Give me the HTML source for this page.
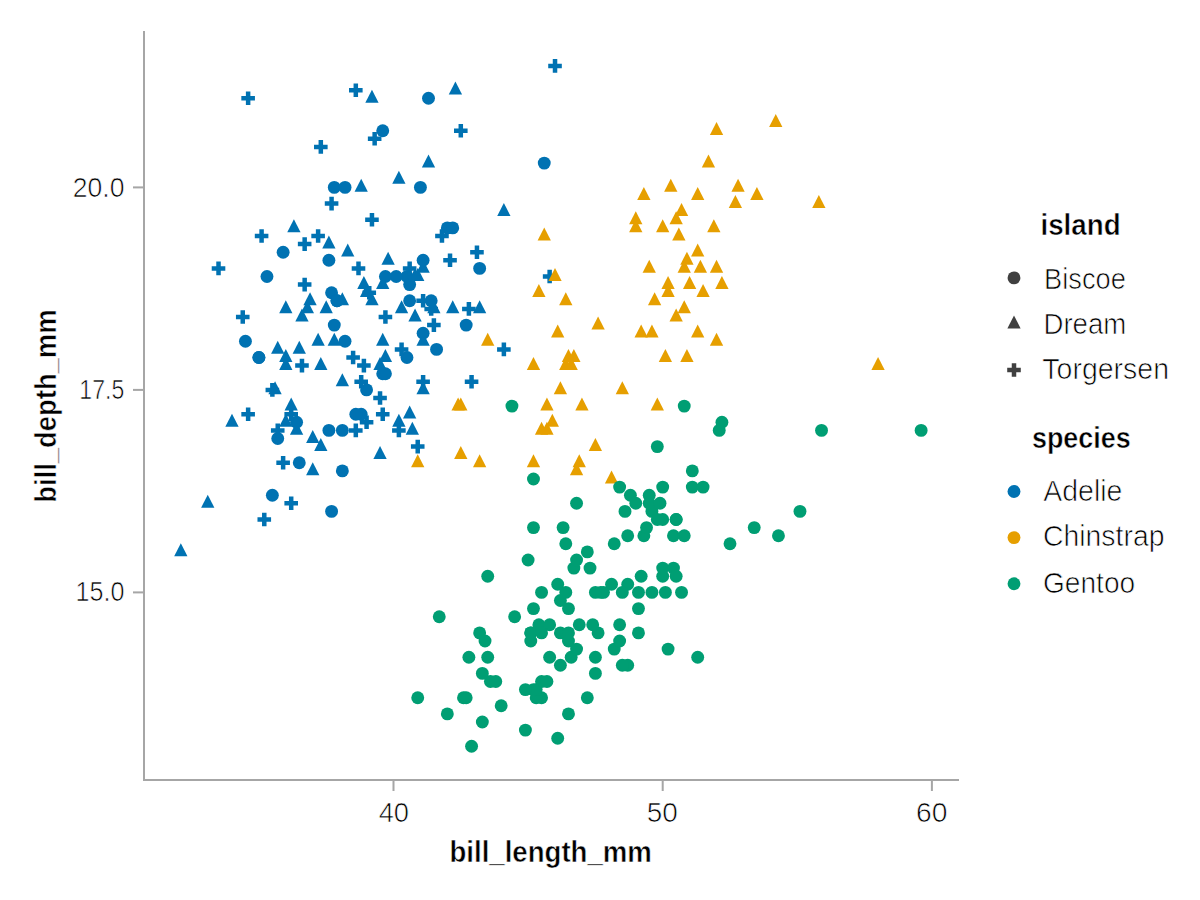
<!DOCTYPE html>
<html><head><meta charset="utf-8"><style>
html,body{margin:0;padding:0;background:#fff;}
svg{display:block;}
text{font-family:"Liberation Sans",sans-serif;fill:#000;}
.th{stroke:#fff;stroke-width:0.7px;}
.bd{stroke:#fff;stroke-width:0.5px;}
</style></head><body>
<svg width="1200" height="900" viewBox="0 0 1200 900">
<rect width="1200" height="900" fill="#fff"/>
<rect x="143" y="31" width="2" height="750" fill="#a6a6a6"/>
<rect x="143" y="779" width="816" height="2" fill="#a6a6a6"/>
<rect x="392.50" y="781" width="2" height="10" fill="#a6a6a6"/><rect x="661.70" y="781" width="2" height="10" fill="#a6a6a6"/><rect x="930.90" y="781" width="2" height="10" fill="#a6a6a6"/><rect x="133" y="186.40" width="10" height="2" fill="#a6a6a6"/><rect x="133" y="388.90" width="10" height="2" fill="#a6a6a6"/><rect x="133" y="591.40" width="10" height="2" fill="#a6a6a6"/>
<text x="124.45" y="197.05" font-size="28.40" class="th" text-anchor="end" textLength="51.72" lengthAdjust="spacingAndGlyphs">20.0</text>
<text x="124.25" y="399.05" font-size="28.40" class="th" text-anchor="end" textLength="44.90" lengthAdjust="spacingAndGlyphs">17.5</text>
<text x="124.45" y="600.95" font-size="28.40" class="th" text-anchor="end" textLength="48.91" lengthAdjust="spacingAndGlyphs">15.0</text>
<text x="393.85" y="822.15" font-size="28.40" class="th" text-anchor="middle" textLength="30.39" lengthAdjust="spacingAndGlyphs">40</text>
<text x="662.35" y="822.35" font-size="28.40" class="th" text-anchor="middle" textLength="31.08" lengthAdjust="spacingAndGlyphs">50</text>
<text x="931.75" y="822.15" font-size="28.40" class="th" text-anchor="middle" textLength="31.41" lengthAdjust="spacingAndGlyphs">60</text>
<text x="550.70" y="861.55" font-size="28.70" font-weight="bold" class="bd" text-anchor="middle" textLength="202.46" lengthAdjust="spacingAndGlyphs">bill_length_mm</text>
<text transform="translate(55.95,406.10) rotate(-90)" font-size="28.70" font-weight="bold" class="bd" text-anchor="middle" textLength="193.30" lengthAdjust="spacingAndGlyphs">bill_depth_mm</text>
<text x="1040.45" y="235.45" font-size="28.90" font-weight="bold" class="bd" textLength="80.18" lengthAdjust="spacingAndGlyphs">island</text>
<text x="1044.05" y="288.75" font-size="28.60" class="th" textLength="81.84" lengthAdjust="spacingAndGlyphs">Biscoe</text>
<text x="1043.45" y="334.25" font-size="28.60" class="th" textLength="82.87" lengthAdjust="spacingAndGlyphs">Dream</text>
<text x="1042.35" y="379.15" font-size="28.60" class="th" textLength="126.63" lengthAdjust="spacingAndGlyphs">Torgersen</text>
<text x="1031.95" y="447.55" font-size="28.90" font-weight="bold" class="bd" textLength="98.64" lengthAdjust="spacingAndGlyphs">species</text>
<text x="1043.35" y="501.25" font-size="28.60" class="th" textLength="79.06" lengthAdjust="spacingAndGlyphs">Adelie</text>
<text x="1043.00" y="546.45" font-size="28.60" class="th" textLength="121.49" lengthAdjust="spacingAndGlyphs">Chinstrap</text>
<text x="1043.00" y="593.45" font-size="28.60" class="th" textLength="92.14" lengthAdjust="spacingAndGlyphs">Gentoo</text>
<circle cx="334.28" cy="325.10" r="6.45" fill="#0072B2"/>
<circle cx="331.58" cy="292.70" r="6.45" fill="#0072B2"/>
<circle cx="283.13" cy="252.20" r="6.45" fill="#0072B2"/>
<circle cx="345.04" cy="341.30" r="6.45" fill="#0072B2"/>
<circle cx="361.20" cy="414.20" r="6.45" fill="#0072B2"/>
<circle cx="266.98" cy="276.50" r="6.45" fill="#0072B2"/>
<circle cx="409.65" cy="300.80" r="6.45" fill="#0072B2"/>
<circle cx="406.96" cy="357.50" r="6.45" fill="#0072B2"/>
<circle cx="336.97" cy="300.80" r="6.45" fill="#0072B2"/>
<circle cx="406.96" cy="276.50" r="6.45" fill="#0072B2"/>
<circle cx="382.73" cy="373.70" r="6.45" fill="#0072B2"/>
<circle cx="396.19" cy="276.50" r="6.45" fill="#0072B2"/>
<circle cx="258.90" cy="357.50" r="6.45" fill="#0072B2"/>
<circle cx="447.34" cy="227.90" r="6.45" fill="#0072B2"/>
<circle cx="245.44" cy="341.30" r="6.45" fill="#0072B2"/>
<circle cx="431.19" cy="300.80" r="6.45" fill="#0072B2"/>
<circle cx="366.58" cy="389.90" r="6.45" fill="#0072B2"/>
<circle cx="409.65" cy="284.60" r="6.45" fill="#0072B2"/>
<circle cx="299.28" cy="462.80" r="6.45" fill="#0072B2"/>
<circle cx="328.89" cy="260.30" r="6.45" fill="#0072B2"/>
<circle cx="277.74" cy="438.50" r="6.45" fill="#0072B2"/>
<circle cx="428.50" cy="98.30" r="6.45" fill="#0072B2"/>
<circle cx="328.89" cy="430.40" r="6.45" fill="#0072B2"/>
<circle cx="423.11" cy="333.20" r="6.45" fill="#0072B2"/>
<circle cx="296.59" cy="422.30" r="6.45" fill="#0072B2"/>
<circle cx="436.57" cy="349.40" r="6.45" fill="#0072B2"/>
<circle cx="272.36" cy="495.20" r="6.45" fill="#0072B2"/>
<circle cx="423.11" cy="260.30" r="6.45" fill="#0072B2"/>
<circle cx="258.90" cy="357.50" r="6.45" fill="#0072B2"/>
<circle cx="420.42" cy="187.40" r="6.45" fill="#0072B2"/>
<circle cx="331.58" cy="511.40" r="6.45" fill="#0072B2"/>
<circle cx="334.28" cy="187.40" r="6.45" fill="#0072B2"/>
<circle cx="336.97" cy="300.80" r="6.45" fill="#0072B2"/>
<circle cx="385.42" cy="276.50" r="6.45" fill="#0072B2"/>
<circle cx="355.81" cy="414.20" r="6.45" fill="#0072B2"/>
<circle cx="345.04" cy="187.40" r="6.45" fill="#0072B2"/>
<circle cx="342.35" cy="430.40" r="6.45" fill="#0072B2"/>
<circle cx="479.64" cy="268.40" r="6.45" fill="#0072B2"/>
<circle cx="342.35" cy="470.90" r="6.45" fill="#0072B2"/>
<circle cx="544.25" cy="163.10" r="6.45" fill="#0072B2"/>
<circle cx="385.42" cy="373.70" r="6.45" fill="#0072B2"/>
<circle cx="452.72" cy="227.90" r="6.45" fill="#0072B2"/>
<circle cx="382.73" cy="130.70" r="6.45" fill="#0072B2"/>
<circle cx="466.18" cy="325.10" r="6.45" fill="#0072B2"/>
<path d="M380.04 446.10L386.69 459.10L373.39 459.10Z" fill="#0072B2"/>
<path d="M318.12 332.70L324.77 345.70L311.47 345.70Z" fill="#0072B2"/>
<path d="M380.04 357.00L386.69 370.00L373.39 370.00Z" fill="#0072B2"/>
<path d="M417.73 267.90L424.38 280.90L411.08 280.90Z" fill="#0072B2"/>
<path d="M296.59 421.80L303.24 434.80L289.94 434.80Z" fill="#0072B2"/>
<path d="M371.96 89.70L378.61 102.70L365.31 102.70Z" fill="#0072B2"/>
<path d="M361.20 178.80L367.85 191.80L354.55 191.80Z" fill="#0072B2"/>
<path d="M452.72 300.30L459.37 313.30L446.07 313.30Z" fill="#0072B2"/>
<path d="M328.89 235.50L335.54 248.50L322.24 248.50Z" fill="#0072B2"/>
<path d="M388.12 251.70L394.77 264.70L381.47 264.70Z" fill="#0072B2"/>
<path d="M299.28 340.80L305.93 353.80L292.63 353.80Z" fill="#0072B2"/>
<path d="M415.04 308.40L421.69 321.40L408.39 321.40Z" fill="#0072B2"/>
<path d="M285.82 300.30L292.47 313.30L279.17 313.30Z" fill="#0072B2"/>
<path d="M503.87 203.10L510.52 216.10L497.22 216.10Z" fill="#0072B2"/>
<path d="M312.74 429.90L319.39 442.90L306.09 442.90Z" fill="#0072B2"/>
<path d="M382.73 276.00L389.38 289.00L376.08 289.00Z" fill="#0072B2"/>
<path d="M423.11 259.80L429.76 272.80L416.46 272.80Z" fill="#0072B2"/>
<path d="M285.82 348.90L292.47 361.90L279.17 361.90Z" fill="#0072B2"/>
<path d="M455.42 81.60L462.07 94.60L448.77 94.60Z" fill="#0072B2"/>
<path d="M320.82 357.00L327.47 370.00L314.17 370.00Z" fill="#0072B2"/>
<path d="M428.50 154.50L435.15 167.50L421.85 167.50Z" fill="#0072B2"/>
<path d="M293.90 219.30L300.55 232.30L287.25 232.30Z" fill="#0072B2"/>
<path d="M310.05 292.20L316.70 305.20L303.40 305.20Z" fill="#0072B2"/>
<path d="M347.74 243.60L354.39 256.60L341.09 256.60Z" fill="#0072B2"/>
<path d="M363.89 276.00L370.54 289.00L357.24 289.00Z" fill="#0072B2"/>
<path d="M277.74 340.80L284.39 353.80L271.09 353.80Z" fill="#0072B2"/>
<path d="M423.11 332.70L429.76 345.70L416.46 345.70Z" fill="#0072B2"/>
<path d="M231.98 413.70L238.63 426.70L225.33 426.70Z" fill="#0072B2"/>
<path d="M382.73 332.70L389.38 345.70L376.08 345.70Z" fill="#0072B2"/>
<path d="M291.20 397.50L297.85 410.50L284.55 410.50Z" fill="#0072B2"/>
<path d="M415.04 267.90L421.69 280.90L408.39 280.90Z" fill="#0072B2"/>
<path d="M342.35 292.20L349.00 305.20L335.70 305.20Z" fill="#0072B2"/>
<path d="M401.58 300.30L408.23 313.30L394.93 313.30Z" fill="#0072B2"/>
<path d="M207.75 494.70L214.40 507.70L201.10 507.70Z" fill="#0072B2"/>
<path d="M479.64 300.30L486.29 313.30L472.99 313.30Z" fill="#0072B2"/>
<path d="M307.36 300.30L314.01 313.30L300.71 313.30Z" fill="#0072B2"/>
<path d="M326.20 300.30L332.85 313.30L319.55 313.30Z" fill="#0072B2"/>
<path d="M342.35 373.20L349.00 386.20L335.70 386.20Z" fill="#0072B2"/>
<path d="M423.11 381.30L429.76 394.30L416.46 394.30Z" fill="#0072B2"/>
<path d="M275.05 381.30L281.70 394.30L268.40 394.30Z" fill="#0072B2"/>
<path d="M398.88 170.70L405.53 183.70L392.23 183.70Z" fill="#0072B2"/>
<path d="M312.74 462.30L319.39 475.30L306.09 475.30Z" fill="#0072B2"/>
<path d="M385.42 348.90L392.07 361.90L378.77 361.90Z" fill="#0072B2"/>
<path d="M398.88 413.70L405.53 426.70L392.23 426.70Z" fill="#0072B2"/>
<path d="M409.65 405.60L416.30 418.60L403.00 418.60Z" fill="#0072B2"/>
<path d="M180.83 543.30L187.48 556.30L174.18 556.30Z" fill="#0072B2"/>
<path d="M412.34 421.80L418.99 434.80L405.69 434.80Z" fill="#0072B2"/>
<path d="M320.82 438.00L327.47 451.00L314.17 451.00Z" fill="#0072B2"/>
<path d="M366.58 284.10L373.23 297.10L359.93 297.10Z" fill="#0072B2"/>
<path d="M371.96 292.20L378.61 305.20L365.31 305.20Z" fill="#0072B2"/>
<path d="M301.97 308.40L308.62 321.40L295.32 321.40Z" fill="#0072B2"/>
<path d="M285.82 357.00L292.47 370.00L279.17 370.00Z" fill="#0072B2"/>
<path d="M334.28 332.70L340.93 345.70L327.63 345.70Z" fill="#0072B2"/>
<path d="M285.82 413.70L292.47 426.70L279.17 426.70Z" fill="#0072B2"/>
<path d="M433.88 300.30L440.53 313.30L427.23 313.30Z" fill="#0072B2"/>
<path d="M367.02 285.90H371.52V290.45H376.07V294.95H371.52V299.50H367.02V294.95H362.47V290.45H367.02Z" fill="#0072B2"/>
<path d="M377.79 391.20H382.29V395.75H386.84V400.25H382.29V404.80H377.79V400.25H373.24V395.75H377.79Z" fill="#0072B2"/>
<path d="M399.33 342.60H403.83V347.15H408.38V351.65H403.83V356.20H399.33V351.65H394.78V347.15H399.33Z" fill="#0072B2"/>
<path d="M302.41 237.30H306.91V241.85H311.46V246.35H306.91V250.90H302.41V246.35H297.86V241.85H302.41Z" fill="#0072B2"/>
<path d="M372.41 132.00H376.91V136.55H381.46V141.05H376.91V145.60H372.41V141.05H367.86V136.55H372.41Z" fill="#0072B2"/>
<path d="M361.64 358.80H366.14V363.35H370.69V367.85H366.14V372.40H361.64V367.85H357.09V363.35H361.64Z" fill="#0072B2"/>
<path d="M369.71 213.00H374.21V217.55H378.76V222.05H374.21V226.60H369.71V222.05H365.16V217.55H369.71Z" fill="#0072B2"/>
<path d="M420.86 375.00H425.36V379.55H429.91V384.05H425.36V388.60H420.86V384.05H416.31V379.55H420.86Z" fill="#0072B2"/>
<path d="M353.56 83.40H358.06V87.95H362.61V92.45H358.06V97.00H353.56V92.45H349.01V87.95H353.56Z" fill="#0072B2"/>
<path d="M245.88 91.50H250.38V96.05H254.93V100.55H250.38V105.10H245.88V100.55H241.33V96.05H245.88Z" fill="#0072B2"/>
<path d="M299.72 358.80H304.22V363.35H308.77V367.85H304.22V372.40H299.72V367.85H295.17V363.35H299.72Z" fill="#0072B2"/>
<path d="M356.25 261.60H360.75V266.15H365.30V270.65H360.75V275.20H356.25V270.65H351.70V266.15H356.25Z" fill="#0072B2"/>
<path d="M458.55 123.90H463.05V128.45H467.60V132.95H463.05V137.50H458.55V132.95H454.00V128.45H458.55Z" fill="#0072B2"/>
<path d="M240.50 310.20H245.00V314.75H249.55V319.25H245.00V323.80H240.50V319.25H235.95V314.75H240.50Z" fill="#0072B2"/>
<path d="M552.77 59.10H557.27V63.65H561.82V68.15H557.27V72.70H552.77V68.15H548.22V63.65H552.77Z" fill="#0072B2"/>
<path d="M280.88 456.00H285.38V460.55H289.93V465.05H285.38V469.60H280.88V465.05H276.33V460.55H280.88Z" fill="#0072B2"/>
<path d="M439.71 229.20H444.21V233.75H448.76V238.25H444.21V242.80H439.71V238.25H435.16V233.75H439.71Z" fill="#0072B2"/>
<path d="M216.27 261.60H220.77V266.15H225.32V270.65H220.77V275.20H216.27V270.65H211.72V266.15H216.27Z" fill="#0072B2"/>
<path d="M383.17 310.20H387.67V314.75H392.22V319.25H387.67V323.80H383.17V319.25H378.62V314.75H383.17Z" fill="#0072B2"/>
<path d="M380.48 407.40H384.98V411.95H389.53V416.45H384.98V421.00H380.48V416.45H375.93V411.95H380.48Z" fill="#0072B2"/>
<path d="M547.39 269.70H551.89V274.25H556.44V278.75H551.89V283.30H547.39V278.75H542.84V274.25H547.39Z" fill="#0072B2"/>
<path d="M270.11 383.10H274.61V387.65H279.16V392.15H274.61V396.70H270.11V392.15H265.56V387.65H270.11Z" fill="#0072B2"/>
<path d="M466.63 302.10H471.13V306.65H475.68V311.15H471.13V315.70H466.63V311.15H462.08V306.65H466.63Z" fill="#0072B2"/>
<path d="M415.48 439.80H419.98V444.35H424.53V448.85H419.98V453.40H415.48V448.85H410.93V444.35H415.48Z" fill="#0072B2"/>
<path d="M315.87 229.20H320.37V233.75H324.92V238.25H320.37V242.80H315.87V238.25H311.32V233.75H315.87Z" fill="#0072B2"/>
<path d="M288.95 496.50H293.45V501.05H298.00V505.55H293.45V510.10H288.95V505.55H284.40V501.05H288.95Z" fill="#0072B2"/>
<path d="M447.78 253.50H452.28V258.05H456.83V262.55H452.28V267.10H447.78V262.55H443.23V258.05H447.78Z" fill="#0072B2"/>
<path d="M245.88 407.40H250.38V411.95H254.93V416.45H250.38V421.00H245.88V416.45H241.33V411.95H245.88Z" fill="#0072B2"/>
<path d="M469.32 375.00H473.82V379.55H478.37V384.05H473.82V388.60H469.32V384.05H464.77V379.55H469.32Z" fill="#0072B2"/>
<path d="M302.41 277.80H306.91V282.35H311.46V286.85H306.91V291.40H302.41V286.85H297.86V282.35H302.41Z" fill="#0072B2"/>
<path d="M259.34 229.20H263.84V233.75H268.39V238.25H263.84V242.80H259.34V238.25H254.79V233.75H259.34Z" fill="#0072B2"/>
<path d="M353.56 423.60H358.06V428.15H362.61V432.65H358.06V437.20H353.56V432.65H349.01V428.15H353.56Z" fill="#0072B2"/>
<path d="M318.57 140.10H323.07V144.65H327.62V149.15H323.07V153.70H318.57V149.15H314.02V144.65H318.57Z" fill="#0072B2"/>
<path d="M275.49 423.60H279.99V428.15H284.54V432.65H279.99V437.20H275.49V432.65H270.94V428.15H275.49Z" fill="#0072B2"/>
<path d="M420.86 294.00H425.36V298.55H429.91V303.05H425.36V307.60H420.86V303.05H416.31V298.55H420.86Z" fill="#0072B2"/>
<path d="M288.95 407.40H293.45V411.95H298.00V416.45H293.45V421.00H288.95V416.45H284.40V411.95H288.95Z" fill="#0072B2"/>
<path d="M329.33 196.80H333.83V201.35H338.38V205.85H333.83V210.40H329.33V205.85H324.78V201.35H329.33Z" fill="#0072B2"/>
<path d="M396.63 423.60H401.13V428.15H405.68V432.65H401.13V437.20H396.63V432.65H392.08V428.15H396.63Z" fill="#0072B2"/>
<path d="M428.94 302.10H433.44V306.65H437.99V311.15H433.44V315.70H428.94V311.15H424.39V306.65H428.94Z" fill="#0072B2"/>
<path d="M262.03 512.70H266.53V517.25H271.08V521.75H266.53V526.30H262.03V521.75H257.48V517.25H262.03Z" fill="#0072B2"/>
<path d="M407.40 261.60H411.90V266.15H416.45V270.65H411.90V275.20H407.40V270.65H402.85V266.15H407.40Z" fill="#0072B2"/>
<path d="M358.95 375.00H363.45V379.55H368.00V384.05H363.45V388.60H358.95V384.05H354.40V379.55H358.95Z" fill="#0072B2"/>
<path d="M431.63 318.30H436.13V322.85H440.68V327.35H436.13V331.90H431.63V327.35H427.08V322.85H431.63Z" fill="#0072B2"/>
<path d="M364.33 415.50H368.83V420.05H373.38V424.55H368.83V429.10H364.33V424.55H359.78V420.05H364.33Z" fill="#0072B2"/>
<path d="M501.62 342.60H506.12V347.15H510.67V351.65H506.12V356.20H501.62V351.65H497.07V347.15H501.62Z" fill="#0072B2"/>
<path d="M350.87 350.70H355.37V355.25H359.92V359.75H355.37V364.30H350.87V359.75H346.32V355.25H350.87Z" fill="#0072B2"/>
<path d="M474.70 245.40H479.20V249.95H483.75V254.45H479.20V259.00H474.70V254.45H470.15V249.95H474.70Z" fill="#0072B2"/>
<path d="M568.48 348.90L575.13 361.90L561.83 361.90Z" fill="#E69F00"/>
<path d="M662.70 219.30L669.35 232.30L656.05 232.30Z" fill="#E69F00"/>
<path d="M697.70 243.60L704.35 256.60L691.05 256.60Z" fill="#E69F00"/>
<path d="M538.87 284.10L545.52 297.10L532.22 297.10Z" fill="#E69F00"/>
<path d="M735.38 195.00L742.03 208.00L728.73 208.00Z" fill="#E69F00"/>
<path d="M533.48 357.00L540.13 370.00L526.83 370.00Z" fill="#E69F00"/>
<path d="M557.71 324.60L564.36 337.60L551.06 337.60Z" fill="#E69F00"/>
<path d="M697.70 324.60L704.35 337.60L691.05 337.60Z" fill="#E69F00"/>
<path d="M555.02 267.90L561.67 280.90L548.37 280.90Z" fill="#E69F00"/>
<path d="M697.70 186.90L704.35 199.90L691.05 199.90Z" fill="#E69F00"/>
<path d="M571.17 357.00L577.82 370.00L564.52 370.00Z" fill="#E69F00"/>
<path d="M708.46 154.50L715.11 167.50L701.81 167.50Z" fill="#E69F00"/>
<path d="M581.94 397.50L588.59 410.50L575.29 410.50Z" fill="#E69F00"/>
<path d="M716.54 332.70L723.19 345.70L709.89 345.70Z" fill="#E69F00"/>
<path d="M552.33 413.70L558.98 426.70L545.68 426.70Z" fill="#E69F00"/>
<path d="M676.16 211.20L682.81 224.20L669.51 224.20Z" fill="#E69F00"/>
<path d="M670.78 178.80L677.43 191.80L664.13 191.80Z" fill="#E69F00"/>
<path d="M878.06 357.00L884.71 370.00L871.41 370.00Z" fill="#E69F00"/>
<path d="M565.79 292.20L572.44 305.20L559.14 305.20Z" fill="#E69F00"/>
<path d="M641.16 324.60L647.81 337.60L634.51 337.60Z" fill="#E69F00"/>
<path d="M458.11 397.50L464.76 410.50L451.46 410.50Z" fill="#E69F00"/>
<path d="M622.32 381.30L628.97 394.30L615.67 394.30Z" fill="#E69F00"/>
<path d="M479.64 454.20L486.29 467.20L472.99 467.20Z" fill="#E69F00"/>
<path d="M678.85 227.40L685.50 240.40L672.20 240.40Z" fill="#E69F00"/>
<path d="M573.86 348.90L580.51 361.90L567.21 361.90Z" fill="#E69F00"/>
<path d="M716.54 259.80L723.19 272.80L709.89 272.80Z" fill="#E69F00"/>
<path d="M676.16 308.40L682.81 321.40L669.51 321.40Z" fill="#E69F00"/>
<path d="M649.24 259.80L655.89 272.80L642.59 272.80Z" fill="#E69F00"/>
<path d="M565.79 357.00L572.44 370.00L559.14 370.00Z" fill="#E69F00"/>
<path d="M738.08 178.80L744.73 191.80L731.43 191.80Z" fill="#E69F00"/>
<path d="M417.73 454.20L424.38 467.20L411.08 467.20Z" fill="#E69F00"/>
<path d="M775.76 114.00L782.41 127.00L769.11 127.00Z" fill="#E69F00"/>
<path d="M460.80 446.10L467.45 459.10L454.15 459.10Z" fill="#E69F00"/>
<path d="M689.62 276.00L696.27 289.00L682.97 289.00Z" fill="#E69F00"/>
<path d="M654.62 292.20L661.27 305.20L647.97 305.20Z" fill="#E69F00"/>
<path d="M595.40 438.00L602.05 451.00L588.75 451.00Z" fill="#E69F00"/>
<path d="M598.09 316.50L604.74 329.50L591.44 329.50Z" fill="#E69F00"/>
<path d="M716.54 122.10L723.19 135.10L709.89 135.10Z" fill="#E69F00"/>
<path d="M579.25 454.20L585.90 467.20L572.60 467.20Z" fill="#E69F00"/>
<path d="M756.92 186.90L763.57 199.90L750.27 199.90Z" fill="#E69F00"/>
<path d="M635.78 219.30L642.43 232.30L629.13 232.30Z" fill="#E69F00"/>
<path d="M560.40 381.30L567.05 394.30L553.75 394.30Z" fill="#E69F00"/>
<path d="M686.93 251.70L693.58 264.70L680.28 264.70Z" fill="#E69F00"/>
<path d="M541.56 421.80L548.21 434.80L534.91 434.80Z" fill="#E69F00"/>
<path d="M686.93 348.90L693.58 361.90L680.28 361.90Z" fill="#E69F00"/>
<path d="M684.24 300.30L690.89 313.30L677.59 313.30Z" fill="#E69F00"/>
<path d="M665.39 348.90L672.04 361.90L658.74 361.90Z" fill="#E69F00"/>
<path d="M635.78 211.20L642.43 224.20L629.13 224.20Z" fill="#E69F00"/>
<path d="M703.08 284.10L709.73 297.10L696.43 297.10Z" fill="#E69F00"/>
<path d="M657.32 397.50L663.97 410.50L650.67 410.50Z" fill="#E69F00"/>
<path d="M611.55 470.40L618.20 483.40L604.90 483.40Z" fill="#E69F00"/>
<path d="M700.39 259.80L707.04 272.80L693.74 272.80Z" fill="#E69F00"/>
<path d="M546.94 397.50L553.59 410.50L540.29 410.50Z" fill="#E69F00"/>
<path d="M681.54 203.10L688.19 216.10L674.89 216.10Z" fill="#E69F00"/>
<path d="M460.80 397.50L467.45 410.50L454.15 410.50Z" fill="#E69F00"/>
<path d="M721.92 276.00L728.57 289.00L715.27 289.00Z" fill="#E69F00"/>
<path d="M533.48 454.20L540.13 467.20L526.83 467.20Z" fill="#E69F00"/>
<path d="M643.86 186.90L650.51 199.90L637.21 199.90Z" fill="#E69F00"/>
<path d="M668.08 276.00L674.73 289.00L661.43 289.00Z" fill="#E69F00"/>
<path d="M544.25 227.40L550.90 240.40L537.60 240.40Z" fill="#E69F00"/>
<path d="M713.85 219.30L720.50 232.30L707.20 232.30Z" fill="#E69F00"/>
<path d="M576.56 462.30L583.21 475.30L569.91 475.30Z" fill="#E69F00"/>
<path d="M546.94 421.80L553.59 434.80L540.29 434.80Z" fill="#E69F00"/>
<path d="M818.84 195.00L825.49 208.00L812.19 208.00Z" fill="#E69F00"/>
<path d="M487.72 332.70L494.37 345.70L481.07 345.70Z" fill="#E69F00"/>
<path d="M651.93 324.60L658.58 337.60L645.28 337.60Z" fill="#E69F00"/>
<path d="M684.24 259.80L690.89 272.80L677.59 272.80Z" fill="#E69F00"/>
<path d="M668.08 284.10L674.73 297.10L661.43 297.10Z" fill="#E69F00"/>
<circle cx="557.71" cy="738.20" r="6.45" fill="#009E73"/>
<circle cx="662.70" cy="487.10" r="6.45" fill="#009E73"/>
<circle cx="627.70" cy="665.30" r="6.45" fill="#009E73"/>
<circle cx="662.70" cy="576.20" r="6.45" fill="#009E73"/>
<circle cx="598.09" cy="632.90" r="6.45" fill="#009E73"/>
<circle cx="568.48" cy="713.90" r="6.45" fill="#009E73"/>
<circle cx="538.87" cy="624.80" r="6.45" fill="#009E73"/>
<circle cx="573.86" cy="568.10" r="6.45" fill="#009E73"/>
<circle cx="482.34" cy="722.00" r="6.45" fill="#009E73"/>
<circle cx="576.56" cy="560.00" r="6.45" fill="#009E73"/>
<circle cx="417.73" cy="697.70" r="6.45" fill="#009E73"/>
<circle cx="635.78" cy="503.30" r="6.45" fill="#009E73"/>
<circle cx="541.56" cy="697.70" r="6.45" fill="#009E73"/>
<circle cx="619.63" cy="624.80" r="6.45" fill="#009E73"/>
<circle cx="549.64" cy="624.80" r="6.45" fill="#009E73"/>
<circle cx="643.86" cy="535.70" r="6.45" fill="#009E73"/>
<circle cx="447.34" cy="713.90" r="6.45" fill="#009E73"/>
<circle cx="641.16" cy="576.20" r="6.45" fill="#009E73"/>
<circle cx="560.40" cy="632.90" r="6.45" fill="#009E73"/>
<circle cx="627.70" cy="584.30" r="6.45" fill="#009E73"/>
<circle cx="668.08" cy="649.10" r="6.45" fill="#009E73"/>
<circle cx="530.79" cy="632.90" r="6.45" fill="#009E73"/>
<circle cx="568.48" cy="632.90" r="6.45" fill="#009E73"/>
<circle cx="563.10" cy="527.60" r="6.45" fill="#009E73"/>
<circle cx="471.57" cy="746.30" r="6.45" fill="#009E73"/>
<circle cx="557.71" cy="584.30" r="6.45" fill="#009E73"/>
<circle cx="603.48" cy="592.40" r="6.45" fill="#009E73"/>
<circle cx="614.24" cy="649.10" r="6.45" fill="#009E73"/>
<circle cx="662.70" cy="568.10" r="6.45" fill="#009E73"/>
<circle cx="590.02" cy="568.10" r="6.45" fill="#009E73"/>
<circle cx="468.88" cy="657.20" r="6.45" fill="#009E73"/>
<circle cx="530.79" cy="632.90" r="6.45" fill="#009E73"/>
<circle cx="921.13" cy="430.40" r="6.45" fill="#009E73"/>
<circle cx="638.47" cy="608.60" r="6.45" fill="#009E73"/>
<circle cx="619.63" cy="487.10" r="6.45" fill="#009E73"/>
<circle cx="463.49" cy="697.70" r="6.45" fill="#009E73"/>
<circle cx="511.95" cy="406.10" r="6.45" fill="#009E73"/>
<circle cx="501.18" cy="705.80" r="6.45" fill="#009E73"/>
<circle cx="627.70" cy="535.70" r="6.45" fill="#009E73"/>
<circle cx="466.18" cy="697.70" r="6.45" fill="#009E73"/>
<circle cx="651.93" cy="511.40" r="6.45" fill="#009E73"/>
<circle cx="536.18" cy="697.70" r="6.45" fill="#009E73"/>
<circle cx="651.93" cy="592.40" r="6.45" fill="#009E73"/>
<circle cx="676.16" cy="519.50" r="6.45" fill="#009E73"/>
<circle cx="490.41" cy="681.50" r="6.45" fill="#009E73"/>
<circle cx="541.56" cy="681.50" r="6.45" fill="#009E73"/>
<circle cx="676.16" cy="519.50" r="6.45" fill="#009E73"/>
<circle cx="525.41" cy="730.10" r="6.45" fill="#009E73"/>
<circle cx="533.48" cy="527.60" r="6.45" fill="#009E73"/>
<circle cx="571.17" cy="657.20" r="6.45" fill="#009E73"/>
<circle cx="622.32" cy="665.30" r="6.45" fill="#009E73"/>
<circle cx="530.79" cy="641.00" r="6.45" fill="#009E73"/>
<circle cx="665.39" cy="592.40" r="6.45" fill="#009E73"/>
<circle cx="568.48" cy="641.00" r="6.45" fill="#009E73"/>
<circle cx="528.10" cy="560.00" r="6.45" fill="#009E73"/>
<circle cx="495.80" cy="681.50" r="6.45" fill="#009E73"/>
<circle cx="541.56" cy="592.40" r="6.45" fill="#009E73"/>
<circle cx="479.64" cy="632.90" r="6.45" fill="#009E73"/>
<circle cx="673.47" cy="568.10" r="6.45" fill="#009E73"/>
<circle cx="536.18" cy="689.60" r="6.45" fill="#009E73"/>
<circle cx="560.40" cy="600.50" r="6.45" fill="#009E73"/>
<circle cx="546.94" cy="681.50" r="6.45" fill="#009E73"/>
<circle cx="778.46" cy="535.70" r="6.45" fill="#009E73"/>
<circle cx="549.64" cy="657.20" r="6.45" fill="#009E73"/>
<circle cx="657.32" cy="446.60" r="6.45" fill="#009E73"/>
<circle cx="649.24" cy="495.20" r="6.45" fill="#009E73"/>
<circle cx="487.72" cy="657.20" r="6.45" fill="#009E73"/>
<circle cx="681.54" cy="592.40" r="6.45" fill="#009E73"/>
<circle cx="600.78" cy="592.40" r="6.45" fill="#009E73"/>
<circle cx="565.79" cy="543.80" r="6.45" fill="#009E73"/>
<circle cx="614.24" cy="543.80" r="6.45" fill="#009E73"/>
<circle cx="568.48" cy="608.60" r="6.45" fill="#009E73"/>
<circle cx="565.79" cy="592.40" r="6.45" fill="#009E73"/>
<circle cx="625.01" cy="511.40" r="6.45" fill="#009E73"/>
<circle cx="595.40" cy="657.20" r="6.45" fill="#009E73"/>
<circle cx="692.31" cy="487.10" r="6.45" fill="#009E73"/>
<circle cx="533.48" cy="689.60" r="6.45" fill="#009E73"/>
<circle cx="533.48" cy="479.00" r="6.45" fill="#009E73"/>
<circle cx="638.47" cy="632.90" r="6.45" fill="#009E73"/>
<circle cx="730.00" cy="543.80" r="6.45" fill="#009E73"/>
<circle cx="592.71" cy="624.80" r="6.45" fill="#009E73"/>
<circle cx="662.70" cy="519.50" r="6.45" fill="#009E73"/>
<circle cx="525.41" cy="689.60" r="6.45" fill="#009E73"/>
<circle cx="684.24" cy="406.10" r="6.45" fill="#009E73"/>
<circle cx="485.03" cy="641.00" r="6.45" fill="#009E73"/>
<circle cx="697.70" cy="657.20" r="6.45" fill="#009E73"/>
<circle cx="595.40" cy="673.40" r="6.45" fill="#009E73"/>
<circle cx="719.23" cy="430.40" r="6.45" fill="#009E73"/>
<circle cx="595.40" cy="592.40" r="6.45" fill="#009E73"/>
<circle cx="721.92" cy="422.30" r="6.45" fill="#009E73"/>
<circle cx="541.56" cy="632.90" r="6.45" fill="#009E73"/>
<circle cx="649.24" cy="503.30" r="6.45" fill="#009E73"/>
<circle cx="514.64" cy="616.70" r="6.45" fill="#009E73"/>
<circle cx="684.24" cy="535.70" r="6.45" fill="#009E73"/>
<circle cx="646.55" cy="527.60" r="6.45" fill="#009E73"/>
<circle cx="579.25" cy="624.80" r="6.45" fill="#009E73"/>
<circle cx="619.63" cy="641.00" r="6.45" fill="#009E73"/>
<circle cx="692.31" cy="470.90" r="6.45" fill="#009E73"/>
<circle cx="622.32" cy="592.40" r="6.45" fill="#009E73"/>
<circle cx="821.53" cy="430.40" r="6.45" fill="#009E73"/>
<circle cx="587.32" cy="551.90" r="6.45" fill="#009E73"/>
<circle cx="638.47" cy="592.40" r="6.45" fill="#009E73"/>
<circle cx="576.56" cy="503.30" r="6.45" fill="#009E73"/>
<circle cx="439.26" cy="616.70" r="6.45" fill="#009E73"/>
<circle cx="754.23" cy="527.60" r="6.45" fill="#009E73"/>
<circle cx="482.34" cy="673.40" r="6.45" fill="#009E73"/>
<circle cx="611.55" cy="584.30" r="6.45" fill="#009E73"/>
<circle cx="676.16" cy="576.20" r="6.45" fill="#009E73"/>
<circle cx="657.32" cy="519.50" r="6.45" fill="#009E73"/>
<circle cx="487.72" cy="576.20" r="6.45" fill="#009E73"/>
<circle cx="703.08" cy="487.10" r="6.45" fill="#009E73"/>
<circle cx="560.40" cy="665.30" r="6.45" fill="#009E73"/>
<circle cx="799.99" cy="511.40" r="6.45" fill="#009E73"/>
<circle cx="630.40" cy="495.20" r="6.45" fill="#009E73"/>
<circle cx="587.32" cy="697.70" r="6.45" fill="#009E73"/>
<circle cx="576.56" cy="649.10" r="6.45" fill="#009E73"/>
<circle cx="673.47" cy="535.70" r="6.45" fill="#009E73"/>
<circle cx="533.48" cy="608.60" r="6.45" fill="#009E73"/>
<circle cx="660.01" cy="503.30" r="6.45" fill="#009E73"/>
<circle cx="1014.00" cy="277.90" r="6.45" fill="#404040"/><path d="M1014.00 315.40L1020.65 328.40L1007.35 328.40Z" fill="#404040"/><path d="M1011.75 363.20H1016.25V367.75H1020.80V372.25H1016.25V376.80H1011.75V372.25H1007.20V367.75H1011.75Z" fill="#404040"/><circle cx="1014.00" cy="491.50" r="6.45" fill="#0072B2"/><circle cx="1014.00" cy="537.60" r="6.45" fill="#E69F00"/><circle cx="1014.00" cy="583.80" r="6.45" fill="#009E73"/>
</svg>
</body></html>
